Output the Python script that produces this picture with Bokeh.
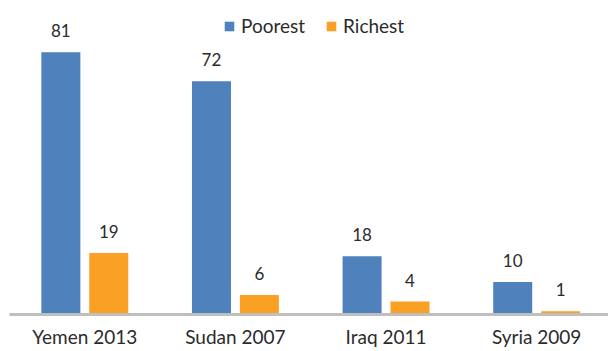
from bokeh.plotting import figure
from bokeh.models import ColumnDataSource, Range1d, FixedTicker, Legend, LegendItem, LabelSet
from bokeh.embed import file_html
from bokeh.resources import INLINE
from bokeh.core.properties import value

categories = ["Yemen 2013", "Sudan 2007", "Iraq 2011", "Syria 2009"]
poorest = [81, 72, 18, 10]
richest = [19, 6, 4, 1]

FONT = "Lato"
TXT = "#2b2b2b"
BLUE = "#4f81bd"
ORANGE = "#f9a025"

idx = list(range(len(categories)))
off = 0.159
bw = 0.259
src_p = ColumnDataSource(dict(x=[i - off for i in idx], top=poorest, lbl=[str(v) for v in poorest]))
src_r = ColumnDataSource(dict(x=[i + off for i in idx], top=richest, lbl=[str(v) for v in richest]))

p = figure(width=608, height=351, output_backend="svg", toolbar_location=None,
           x_range=Range1d(-0.5, 3.477), y_range=Range1d(0, 96.97),
           min_border_left=9, min_border_right=0, min_border_top=0, min_border_bottom=37)
p.outline_line_color = None
p.grid.visible = False
p.yaxis.visible = False
p.background_fill_color = "white"
p.border_fill_color = "white"

rp = p.vbar(x="x", top="top", width=bw, source=src_p, fill_color=BLUE, line_color=None)
rr = p.vbar(x="x", top="top", width=bw, source=src_r, fill_color=ORANGE, line_color=None)

for s in (src_p, src_r):
    p.add_layout(LabelSet(x="x", y="top", text="lbl", source=s, y_offset=15,
                          text_align="center", text_baseline="alphabetic",
                          text_font=value(FONT), text_font_size="17px", text_color=TXT))

ax = p.xaxis[0]
ax.ticker = FixedTicker(ticks=idx)
ax.major_label_overrides = {i: c for i, c in zip(idx, categories)}
ax.major_tick_line_color = None
ax.minor_tick_line_color = None
ax.axis_line_color = "#bfbfbf"
ax.axis_line_width = 3
ax.major_label_standoff = 4
ax.major_label_text_font = FONT
ax.major_label_text_font_size = "19px"
ax.major_label_text_color = TXT

legend = Legend(items=[LegendItem(label="Poorest", renderers=[rp]),
                       LegendItem(label="Richest", renderers=[rr])],
                location=(214, 277), orientation="horizontal",
                margin=0, padding=0, spacing=20, label_standoff=6,
                glyph_width=12, glyph_height=12,
                label_text_font=FONT, label_text_font_size="19px", label_text_color=TXT,
                border_line_color=None, background_fill_alpha=0)
p.add_layout(legend)

open("out.html", "w").write(file_html(p, INLINE))
